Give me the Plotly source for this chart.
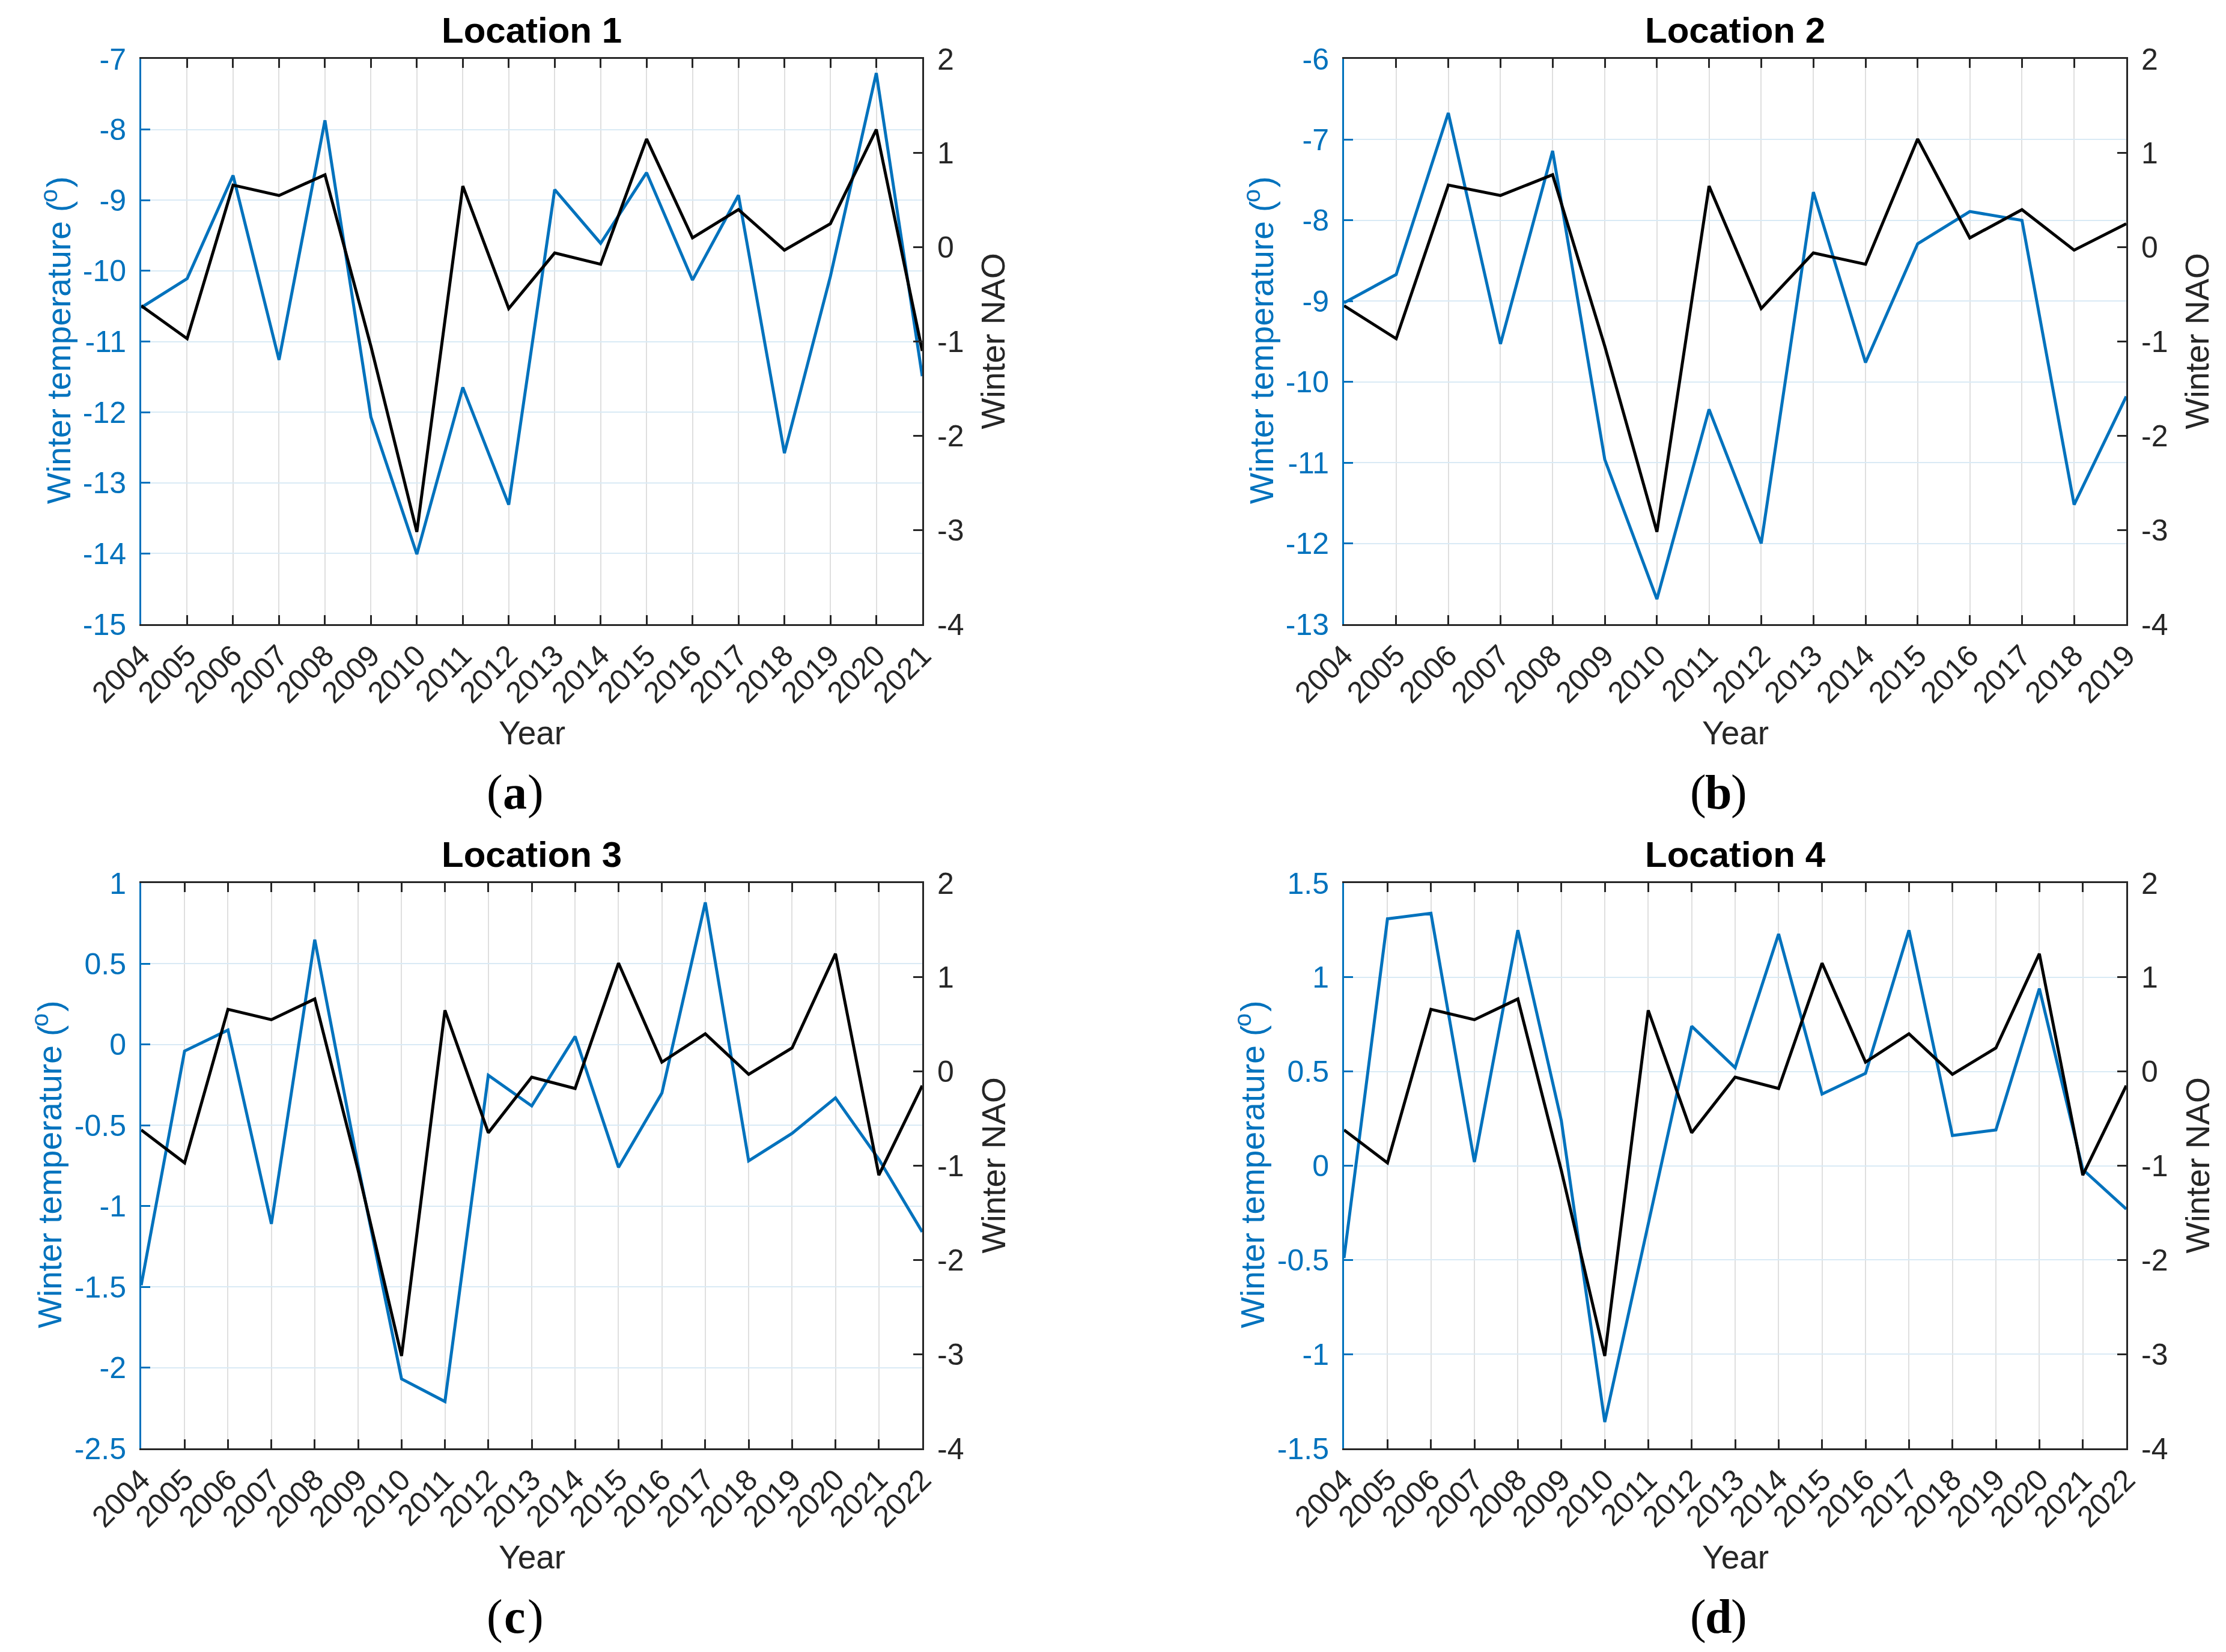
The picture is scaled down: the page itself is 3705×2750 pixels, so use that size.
import plotly.graph_objects as go

# ---------------- data ----------------
years_a = [2004, 2005, 2006, 2007, 2008, 2009, 2010, 2011, 2012, 2013, 2014, 2015, 2016, 2017, 2018, 2019, 2020, 2021]
years_b = [2004, 2005, 2006, 2007, 2008, 2009, 2010, 2011, 2012, 2013, 2014, 2015, 2016, 2017, 2018, 2019]
years_c = [2004, 2005, 2006, 2007, 2008, 2009, 2010, 2011, 2012, 2013, 2014, 2015, 2016, 2017, 2018, 2019, 2020, 2021, 2022]
years_d = [2004, 2005, 2006, 2007, 2008, 2009, 2010, 2011, 2012, 2013, 2014, 2015, 2016, 2017, 2018, 2019, 2020, 2021, 2022]

# Winter NAO index (same for all locations), 2004-2022
nao_all = [-0.62, -0.97, 0.66, 0.55, 0.77, -1.05, -3.02, 0.65, -0.65, -0.06,
           -0.18, 1.15, 0.10, 0.40, -0.03, 0.25, 1.25, -1.10, -0.15]

temp_a = [-10.52, -10.11, -8.65, -11.26, -7.87, -12.07, -14.01, -11.65, -13.31,
          -8.85, -9.61, -8.61, -10.13, -8.93, -12.58, -10.08, -7.20, -11.49]
temp_b = [-9.02, -8.67, -6.67, -9.53, -7.14, -10.96, -12.69, -10.34, -12.00,
          -7.65, -9.76, -8.29, -7.89, -8.00, -11.52, -10.18]
temp_c = [-1.49, -0.04, 0.09, -1.11, 0.65, -0.75, -2.07, -2.21, -0.19, -0.38,
          0.05, -0.76, -0.30, 0.88, -0.72, -0.55, -0.33, -0.71, -1.16]
temp_d = [-0.49, 1.31, 1.34, 0.02, 1.25, 0.24, -1.36, -0.31, 0.74, 0.52,
          1.23, 0.38, 0.49, 1.25, 0.16, 0.19, 0.94, -0.02, -0.23]

titles = ["Location 1", "Location 2", "Location 3", "Location 4"]
tags = ["a", "b", "c", "d"]

temp_ticks_a = [-15, -14, -13, -12, -11, -10, -9, -8, -7]
temp_labels_a = ["-15", "-14", "-13", "-12", "-11", "-10", "-9", "-8", "-7"]
temp_ticks_b = [-13, -12, -11, -10, -9, -8, -7, -6]
temp_labels_b = ["-13", "-12", "-11", "-10", "-9", "-8", "-7", "-6"]
temp_ticks_c = [-2.5, -2, -1.5, -1, -0.5, 0, 0.5, 1]
temp_labels_c = ["-2.5", "-2", "-1.5", "-1", "-0.5", "0", "0.5", "1"]
temp_ticks_d = [-1.5, -1, -0.5, 0, 0.5, 1, 1.5]
temp_labels_d = ["-1.5", "-1", "-0.5", "0", "0.5", "1", "1.5"]
nao_ticks = [-4, -3, -2, -1, 0, 1, 2]
nao_labels = ["-4", "-3", "-2", "-1", "0", "1", "2"]

# y-label pieces: "Winter temperature (" + superscript "o" + ")"
ylab_main = "Winter temperature ("
ylab_sup = "o"
ylab_close = ")"

# ---------------- style / layout ----------------
W, H = 3705, 2750
BLUE = "#0072BD"
DARK = "#262626"
FONT = "Liberation Sans"
SERIF = "Liberation Serif"
TICK_SIZE = 50
LABEL_SIZE = 55
SUP_SIZE = 40
TITLE_SIZE = 60
TAG_SIZE = 80

boxes = [(227, 90, 1527, 1031), (2229, 90, 3531, 1031),
         (227, 1462, 1527, 2403), (2229, 1462, 3531, 2403)]
left_title_off = [137, 137, 152, 152]

# approximate text lengths (px) of the y-label pieces
L_MAIN = 504
L_SUP = 23
L_CLOSE = 18

panels = [
    (years_a, temp_a, temp_ticks_a, temp_labels_a),
    (years_b, temp_b, temp_ticks_b, temp_labels_b),
    (years_c, temp_c, temp_ticks_c, temp_labels_c),
    (years_d, temp_d, temp_ticks_d, temp_labels_d),
]


def px(x):
    return x / W


def py(y):
    return 1 - y / H


def ann(text, x, y, size, color, family=FONT, weight="normal", angle=0,
        xanchor="center", yanchor="middle"):
    return dict(text=text, x=px(x), y=py(y), xref="paper", yref="paper",
                xanchor=xanchor, yanchor=yanchor, textangle=angle,
                showarrow=False,
                font=dict(family=family, size=size, color=color, weight=weight))


fig = go.Figure()
annotations = []
layout = {}

for i, (yrs, temp, tvals, tlabels) in enumerate(panels):
    n = i + 1
    xl, yt, xr, yb = boxes[i]
    xname = "x" if n == 1 else f"x{n}"
    yl_name = f"y{2 * n - 1}" if n > 1 else "y"
    yr_name = f"y{2 * n}"
    nao = nao_all[:len(yrs)]

    fig.add_trace(go.Scatter(x=yrs, y=temp, mode="lines",
                             line=dict(color=BLUE, width=5),
                             xaxis=xname, yaxis=yl_name, showlegend=False))
    fig.add_trace(go.Scatter(x=yrs, y=nao, mode="lines",
                             line=dict(color="#000000", width=5),
                             xaxis=xname, yaxis=yr_name, showlegend=False))

    xkey = "xaxis" if n == 1 else f"xaxis{n}"
    ylkey = "yaxis" if n == 1 else f"yaxis{2 * n - 1}"
    yrkey = f"yaxis{2 * n}"

    layout[xkey] = dict(
        domain=[px(xl), px(xr)], anchor=yl_name, automargin=False,
        range=[yrs[0], yrs[-1]],
        tickmode="array", tickvals=yrs, ticktext=[str(y) for y in yrs],
        tickangle=-45, ticks="inside", ticklen=15, tickwidth=3, tickcolor=DARK,
        showline=True, linecolor=DARK, linewidth=3, mirror="ticks",
        showgrid=True, gridcolor="#DFDFDF", gridwidth=2, zeroline=False,
        tickfont=dict(family=FONT, size=TICK_SIZE, color=DARK),
    )
    layout[ylkey] = dict(
        domain=[py(yb), py(yt)], anchor=xname, automargin=False,
        range=[tvals[0], tvals[-1]],
        tickmode="array", tickvals=tvals, ticktext=tlabels,
        ticks="inside", ticklen=15, tickwidth=3, tickcolor=BLUE,
        showline=True, linecolor=BLUE, linewidth=3,
        showgrid=True, gridcolor="#D9EAF5", gridwidth=2, zeroline=False,
        tickfont=dict(family=FONT, size=TICK_SIZE, color=BLUE),
        ticklabelstandoff=12,
    )
    layout[yrkey] = dict(
        overlaying=yl_name, side="right", anchor=xname, automargin=False,
        range=[nao_ticks[0], nao_ticks[-1]],
        tickmode="array", tickvals=nao_ticks, ticktext=nao_labels,
        ticks="inside", ticklen=15, tickwidth=3, tickcolor=DARK,
        showline=True, linecolor=DARK, linewidth=3,
        showgrid=False, zeroline=False,
        tickfont=dict(family=FONT, size=TICK_SIZE, color=DARK),
        ticklabelstandoff=12,
    )

    cx = (xl + xr) / 2
    cy = (yt + yb) / 2
    annotations.append(ann(titles[i], cx, yt - 48, TITLE_SIZE, "#000000", weight="bold"))

    # left y label, rotated (reads bottom to top), built from three pieces
    lx = xl - left_title_off[i]
    total = L_MAIN + L_SUP + L_CLOSE
    y_start = cy + total / 2            # bottom end of the label (pixel y)
    annotations.append(ann(ylab_main, lx, y_start, LABEL_SIZE, BLUE, angle=-90,
                           yanchor="bottom"))
    annotations.append(ann(ylab_sup, lx - 17, y_start - L_MAIN + 2, SUP_SIZE, BLUE, angle=-90,
                           yanchor="bottom"))
    annotations.append(ann(ylab_close, lx, y_start - L_MAIN - L_SUP, LABEL_SIZE, BLUE, angle=-90,
                           yanchor="bottom"))

    annotations.append(ann("Winter NAO", xr + 118, cy, LABEL_SIZE, DARK, angle=-90))
    annotations.append(ann("Year", cx, yb + 181, LABEL_SIZE, DARK))
    # panel tag "(a)" with bold letter and regular parentheses
    tx = cx - 28
    ty = yb + 280
    annotations.append(ann("(", tx - 34, ty, TAG_SIZE, "#000000", family=SERIF))
    annotations.append(ann(tags[i], tx, ty, TAG_SIZE, "#000000", family=SERIF, weight="bold"))
    annotations.append(ann(")", tx + 34, ty, TAG_SIZE, "#000000", family=SERIF))

fig.update_layout(
    width=W, height=H, margin=dict(l=0, r=0, t=0, b=0, autoexpand=False),
    paper_bgcolor="white", plot_bgcolor="white",
    annotations=annotations, **layout,
)

fig.write_html("out.html")
